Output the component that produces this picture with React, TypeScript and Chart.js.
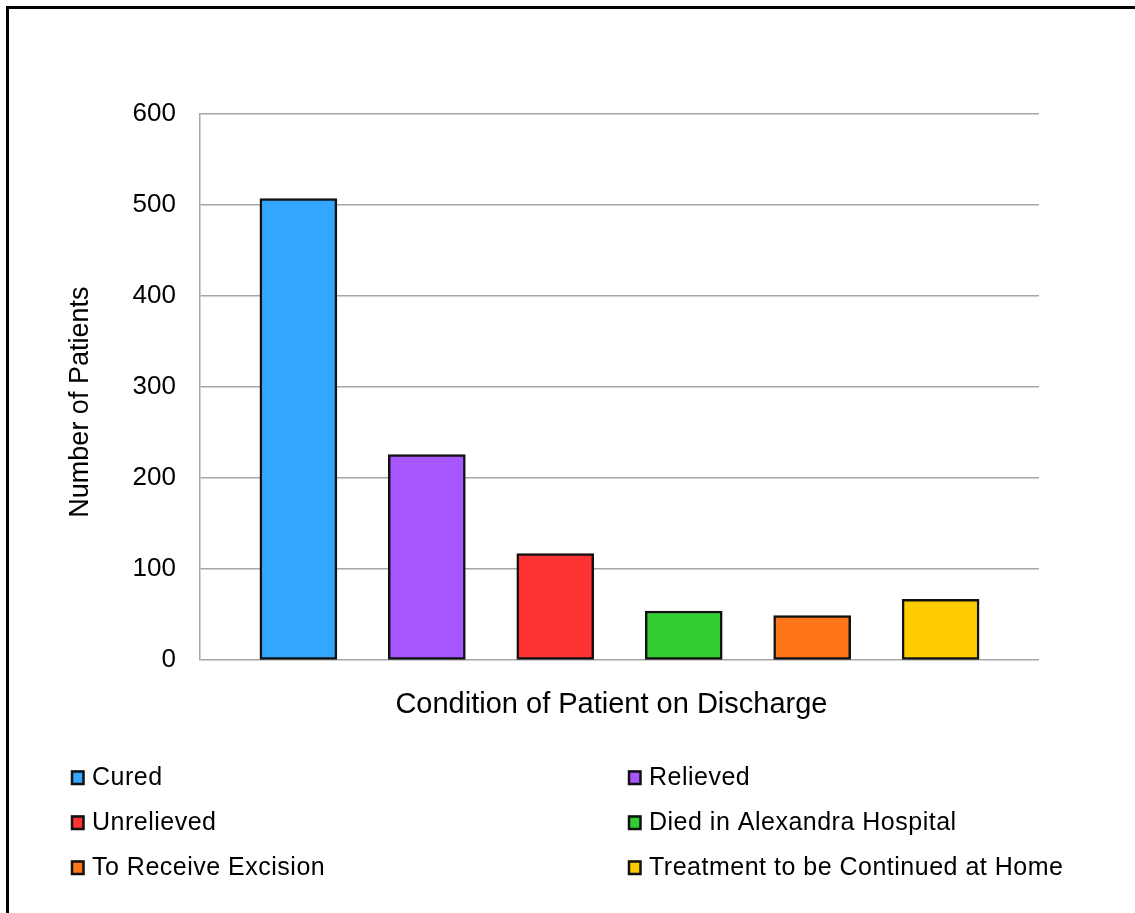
import { useEffect, useRef } from "react";
import Chart from "chart.js/auto";

const categories = [
  "Cured",
  "Relieved",
  "Unrelieved",
  "Died in Alexandra Hospital",
  "To Receive Excision",
  "Treatment to be Continued at Home",
];
const patients = [507, 226, 117, 54, 49, 67];
const barColors = ["#33a6ff", "#a857ff", "#ff3333", "#33cc33", "#ff761a", "#ffcc00"];
const yMin = 0;
const yMax = 600;
const yStep = 100;
const xTitle = "Condition of Patient on Discharge";
const yTitle = "Number of Patients";

const FONT = '"Liberation Sans", Arial, sans-serif';

const gridLegend = {
  id: "gridLegend",
  afterDraw(chart: any) {
    const ctx = chart.ctx;
    ctx.save();
    ctx.font = `25px ${FONT}`;
    ctx.textBaseline = "middle";
    ctx.textAlign = "left";
    try {
      ctx.letterSpacing = "0.5px";
    } catch (e) {}
    categories.forEach((label, i) => {
      const col = i % 2;
      const row = Math.floor(i / 2);
      const bx = col === 0 ? 62 : 619;
      const cy = 768.5 + row * 45;
      ctx.fillStyle = barColors[i];
      ctx.fillRect(bx, cy - 7, 13, 14);
      ctx.lineWidth = 2.5;
      ctx.strokeStyle = "#111";
      ctx.strokeRect(bx + 1, cy - 6, 11.5, 12.5);
      ctx.fillStyle = "#000";
      ctx.fillText(label, bx + 21, cy + 0.5);
    });
    ctx.restore();
  },
};

export default function App() {
  const ref = useRef<HTMLCanvasElement | null>(null);

  useEffect(() => {
    if (!ref.current) return;
    const chart = new Chart(ref.current, {
      type: "bar",
      data: {
        datasets: [
          {
            label: yTitle,
            data: patients.map((v, i) => ({ x: i, y: v })),
            backgroundColor: barColors,
            borderColor: "#111",
            borderWidth: 2.5,
            borderSkipped: false,
            barThickness: 77,
          },
        ],
      },
      plugins: [gridLegend],
      options: {
        responsive: false,
        animation: false,
        devicePixelRatio: 1,
        layout: { padding: { top: 105, right: 96, bottom: 191, left: 0 } },
        plugins: {
          legend: { display: false },
          tooltip: { enabled: false },
        },
        scales: {
          x: {
            type: "linear",
            min: -0.766,
            max: 5.766,
            offset: false,
            grid: { display: false, drawTicks: false },
            border: { display: false },
            ticks: { display: false },
            title: {
              display: true,
              text: xTitle + "  ",
              color: "#000",
              font: { family: FONT, size: 29 },
              padding: { top: 27, bottom: 0 },
            },
          },
          y: {
            min: yMin,
            max: yMax,
            ticks: {
              stepSize: yStep,
              color: "#000",
              font: { family: FONT, size: 26 },
              padding: 24,
            },
            grid: { color: "#a6a6a6", lineWidth: 1.5, drawTicks: false },
            border: { display: true, color: "#a6a6a6", width: 1.5 },
            title: {
              display: true,
              text: yTitle + "    ",
              color: "#000",
              font: { family: FONT, size: 27 },
              padding: { top: 55, bottom: 0 },
            },
            afterFit(scale: any) {
              scale.width = 191;
            },
          },
        },
      },
    });
    return () => chart.destroy();
  }, []);

  return (
    <div
      style={{
        position: "absolute",
        left: 6,
        top: 6,
        width: 1126,
        height: 904,
        borderTop: "3px solid #000",
        borderLeft: "3px solid #000",
        background: "#fff",
        overflow: "hidden",
      }}
    >
      <canvas ref={ref} width={1126} height={904} style={{ display: "block", width: 1126, height: 904 }} />
    </div>
  );
}
